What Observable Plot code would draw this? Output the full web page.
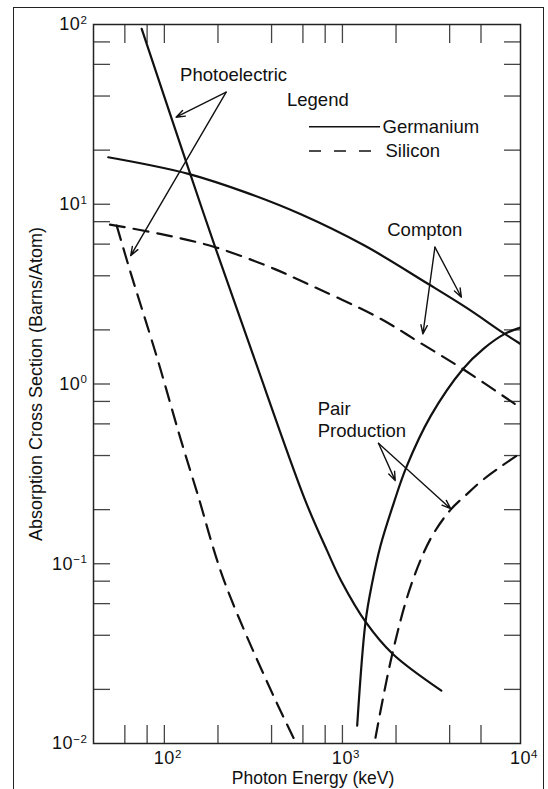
<!DOCTYPE html>
<html>
<head>
<meta charset="utf-8">
<script src="https://cdn.jsdelivr.net/npm/d3@7"></script>
<script src="https://cdn.jsdelivr.net/npm/@observablehq/plot@0.6"></script>
<style>
  html, body { margin: 0; padding: 0; background: #fff; width: 548px; height: 789px; overflow: hidden; }
  #page { position: relative; width: 548px; height: 789px; }
  #border { position: absolute; left: 13px; top: 7px; width: 531px; height: 830px; border: 1.6px solid #222; box-sizing: border-box; }
  #chart { position: absolute; left: 0; top: 0; }
  #legend { position: absolute; left: 0; top: 0; pointer-events: none; }
</style>
</head>
<body>
<div id="page">
  <div id="border"></div>
  <div id="chart"></div>
  <svg id="legend" width="548" height="789"></svg>
</div>
<script>
// Absorption cross sections (barns/atom) versus photon energy (keV)
const gePhotoE = [74.6, 133.7, 192.9, 313.5, 619, 820, 983, 1356, 1911, 3593];
const gePhotoS = [94.6, 16.78, 5.77, 1.47, 0.2245, 0.1183, 0.0805, 0.0472, 0.0316, 0.0197];

const siPhotoE = [54, 64.1, 90.6, 122.6, 158.8, 180.8, 205.8, 234.3, 290.9, 414.3, 547.6];
const siPhotoS = [7.61, 4.28, 1.421, 0.505, 0.2188, 0.1397, 0.0927, 0.0656, 0.0393, 0.0180, 0.0101];

const geComptonE = [48.4, 80.9, 136.5, 280.9, 580, 1330, 3020, 4987, 8159, 10000];
const geComptonS = [18.26, 16.59, 14.76, 11.72, 8.82, 5.89, 3.61, 2.65, 1.90, 1.67];

const siComptonE = [49.5, 94.6, 192.9, 414.3, 580, 1568, 2748, 4815, 9288, 10000];
const siComptonS = [7.71, 6.84, 5.77, 4.37, 3.76, 2.36, 1.69, 1.20, 0.775, 0.737];

const gePairE = [1210, 1347, 1466, 1636, 1962, 2283, 3128, 4753, 6215, 8159, 10000];
const gePairS = [0.01256, 0.0472, 0.0775, 0.126, 0.2245, 0.344, 0.663, 1.213, 1.574, 1.90, 2.06];

const siPairE = [1533, 1904, 2414, 3128, 4053, 4967, 5977, 7748, 10000];
const siPairS = [0.01077, 0.0314, 0.0746, 0.1379, 0.200, 0.2424, 0.2863, 0.347, 0.4125];

// Axis ticks
const xTicks = [60, 80, 100, 200, 400, 600, 800, 1000, 2000, 4000, 6000];
const xMajor = [100, 1000, 10000];
const yTicks = [0.02, 0.04, 0.06, 0.08, 0.1, 0.2, 0.4, 0.6, 0.8, 1, 2, 4, 6, 8, 10, 20, 40, 60, 80];
const yMajor = [0.01, 0.1, 1, 10, 100];

// Annotations (positions in keV and barns/atom)
const annotationLabels = [
  {text: "Photoelectric", x: 122.6, y: 53.4},
  {text: "Compton", x: 1785, y: 7.3},
  {text: "Pair\nProduction", x: 726, y: 0.642}
];
const annotationArrows = [
  {x1: 222.4, y1: 42.0, x2: 116.4, y2: 30.5},
  {x1: 222.4, y1: 42.0, x2: 64.7, y2: 5.18},
  {x1: 3307, y1: 5.77, x2: 4656, y2: 3.04},
  {x1: 3307, y1: 5.77, x2: 2831, y2: 1.90},
  {x1: 1594, y1: 0.4677, x2: 1980, y2: 0.290},
  {x1: 1594, y1: 0.4677, x2: 4053, y2: 0.2025}
];

const legendTitle = "Legend";
const legendNames = ["Germanium", "Silicon"];
const legendDashes = [null, "12,13"];

const series = [
  {material: "Germanium", process: "Photoelectric", energy: gePhotoE, sigma: gePhotoS},
  {material: "Silicon", process: "Photoelectric", energy: siPhotoE, sigma: siPhotoS},
  {material: "Germanium", process: "Compton", energy: geComptonE, sigma: geComptonS},
  {material: "Silicon", process: "Compton", energy: siComptonE, sigma: siComptonS},
  {material: "Germanium", process: "Pair", energy: gePairE, sigma: gePairS},
  {material: "Silicon", process: "Pair", energy: siPairE, sigma: siPairS}
];
const rows = series.flatMap(s => s.energy.map((e, i) => ({material: s.material, process: s.process, energy: e, sigma: s.sigma[i]})));

const ink = "#111";
const dash = "15,9";
const font = "'Liberation Sans', Arial, sans-serif";
const fmt = d => `10^${Math.round(Math.log10(d))}`;

const chart = Plot.plot({
  width: 548,
  height: 789,
  marginLeft: 93,
  marginRight: 28,
  marginTop: 24,
  marginBottom: 46,
  style: {fontFamily: font, fontSize: "18px", color: ink, background: "transparent", overflow: "visible"},
  x: {type: "log", domain: [40, 10000]},
  y: {type: "log", domain: [0.01, 100]},
  marks: [
    Plot.axisX(xTicks, {anchor: "bottom", tickSize: -18, fill: "none", stroke: "#444", strokeWidth: 1.3}),
    Plot.axisX(xTicks, {anchor: "top", tickSize: -18, fill: "none", stroke: "#444", strokeWidth: 1.3}),
    Plot.axisY(yTicks, {anchor: "left", tickSize: -17, fill: "none", stroke: "#444", strokeWidth: 1.3}),
    Plot.axisY(yTicks, {anchor: "right", tickSize: -17, fill: "none", stroke: "#444", strokeWidth: 1.3}),
    Plot.axisX(xMajor, {anchor: "bottom", tickSize: 0, tickPadding: 8, tickFormat: fmt,
      label: "Photon Energy (keV)", labelAnchor: "center", labelOffset: 42, labelArrow: "none"}),
    Plot.axisY(yMajor, {anchor: "left", tickSize: 0, tickPadding: 6, tickFormat: fmt,
      label: "Absorption Cross Section (Barns/Atom)", labelAnchor: "center", labelOffset: 64, labelArrow: "none"}),
    Plot.line(rows.filter(d => d.material === "Germanium"), {x: "energy", y: "sigma", z: "process", curve: "catmull-rom", stroke: ink, strokeWidth: 2.2, clip: true}),
    Plot.line(rows.filter(d => d.material === "Silicon"), {x: "energy", y: "sigma", z: "process", curve: "catmull-rom", stroke: ink, strokeWidth: 2.2, strokeDasharray: dash, clip: true}),
    Plot.arrow(annotationArrows, {x1: "x1", y1: "y1", x2: "x2", y2: "y2", stroke: ink, strokeWidth: 1.4, headLength: 10, headAngle: 40}),
    Plot.text(annotationLabels, {x: "x", y: "y", text: "text", textAnchor: "start", fontSize: 18.5, lineHeight: 1.22, fill: ink}),
    Plot.frame({stroke: "#222", strokeWidth: 1.5})
  ]
});

// Render exponents as raised tspans
const ns = "http://www.w3.org/2000/svg";
function superscripts(svg, axis) {
  svg.querySelectorAll(`g[aria-label="${axis}-axis tick label"] text`).forEach(t => {
    const [base, exp] = t.textContent.split("^");
    t.textContent = "";
    t.setAttribute("font-size", "18");
    t.setAttribute("letter-spacing", "0.6");
    const b = document.createElementNS(ns, "tspan");
    b.textContent = base;
    const s = document.createElementNS(ns, "tspan");
    s.textContent = exp.replace("-", "\u2212");
    s.setAttribute("font-size", "0.64em");
    s.setAttribute("dy", "-0.55em");
    t.appendChild(b);
    t.appendChild(s);
    if (axis === "x") {
      t.setAttribute("text-anchor", "start");
      b.setAttribute("dx", "-0.59em");
    }
  });
}
superscripts(chart, "x");
superscripts(chart, "y");

// Nudge the x-axis title slightly right of the frame centre
const xLabel = chart.querySelector('g[aria-label="x-axis label"]');
if (xLabel) {
  xLabel.setAttribute("transform", `translate(6,-2) ${xLabel.getAttribute("transform") || ""}`);
  xLabel.setAttribute("font-size", "17.5");
}

document.getElementById("chart").appendChild(chart);

// Legend
const lg = d3.select("#legend")
  .attr("font-family", font)
  .attr("font-size", 18.5)
  .attr("fill", ink);
lg.append("text").attr("x", 287).attr("y", 100).attr("dy", "0.35em").text(legendTitle);
legendNames.forEach((name, i) => {
  const y = 126.7 + i * 24.3;
  lg.append("line")
    .attr("x1", 309).attr("x2", i ? 374 : 380).attr("y1", y).attr("y2", y)
    .attr("stroke", ink).attr("stroke-width", 1.6)
    .attr("stroke-dasharray", legendDashes[i]);
  lg.append("text").attr("x", i ? 385.5 : 382.5).attr("y", y).attr("dy", "0.35em").text(name);
});
</script>
</body>
</html>
